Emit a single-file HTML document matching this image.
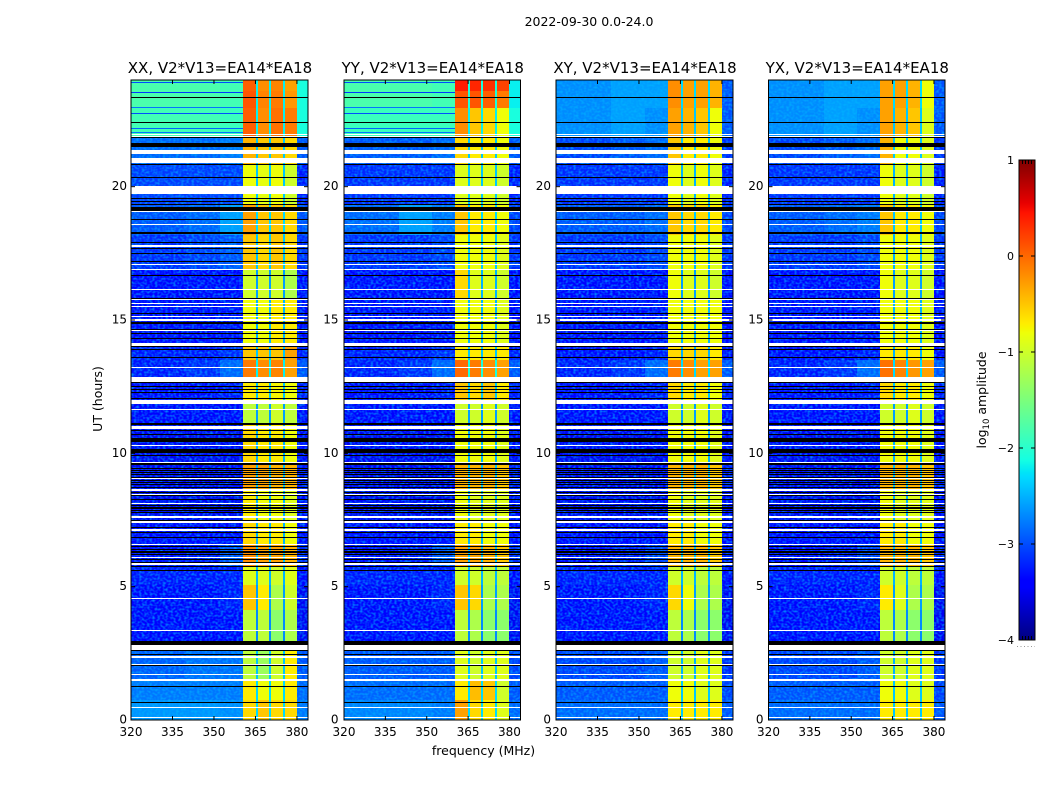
<!DOCTYPE html>
<html>
<head>
<meta charset="utf-8">
<style>
html,body{margin:0;padding:0;background:#fff;}
svg{display:block;}
text{font-family:"DejaVu Sans","Liberation Sans",sans-serif;fill:#000;}
</style>
</head>
<body>
<svg id="figure" xmlns="http://www.w3.org/2000/svg" width="1050" height="800" viewBox="0 0 1050 800">
<defs>
<filter id="grain" x="0" y="0" width="100%" height="100%" color-interpolation-filters="sRGB">
<feTurbulence type="fractalNoise" baseFrequency="0.38 0.46" numOctaves="1" seed="3"/>
<feColorMatrix type="matrix" values="0 0 0 0 0  0 0 0 0 0.72  0 0 0 0 1  1.7 0 0 0 -0.68"/>
</filter>
</defs>
<text x="589" y="26" font-size="12.5" text-anchor="middle">2022-09-30 0.0-24.0</text>
<text x="483.5" y="755" font-size="12.5" text-anchor="middle">frequency (MHz)</text>
<text x="0" y="0" font-size="12.5" text-anchor="middle" transform="translate(102,399) rotate(-90)">UT (hours)</text>
<text x="0" y="0" font-size="12.5" text-anchor="middle" transform="translate(986,400) rotate(-90)">log<tspan font-size="8.5" dy="3">10</tspan><tspan dy="-3"> amplitude</tspan></text>
<g id="panels"></g>
<g id="colorbar"></g>
</svg>
<script>
// ---- categories and tick labels ----
const panelTitles = ["XX, V2*V13=EA14*EA18", "YY, V2*V13=EA14*EA18", "XY, V2*V13=EA14*EA18", "YX, V2*V13=EA14*EA18"];
const freqTicks = [320, 335, 350, 365, 380];
const hourTicks = [0, 5, 10, 15, 20];
const colorbarTicks = [1, 0, -1, -2, -3, -4];

// frequency bin edges (MHz) and which level column each bin reads
const freqEdges = [320, 340, 352, 360.4, 365.1, 365.8, 369.8, 370.5, 374.9, 375.6, 379.9, 384];
const binColumn = [0, 1, 2, 3, 7, 4, 7, 5, 7, 6, 8];

// time row edges (hours), top to bottom
const hourEdges = [24, 23.6, 22.95, 21.83, 20.81, 19.31, 18.19, 16.88, 15.75, 14.06, 13.5, 12.75, 12, 11.06, 9.68, 8.63, 7.5, 6.56, 5.78, 5.06, 4.13, 3, 2.63, 1.5, 0.75, 0];

// log10 amplitude: columns = low-320, low-340, low-352, sb1, sb2, sb3, sb4, gap, edge-380
const levelsXX = [
[-1.8,-1.8,-1.85,0.05,-0.2,-0.15,-0.3,-2.2,-2.1],
[-1.8,-1.8,-1.85,0.1,-0.15,-0.1,-0.25,-2.2,-2.1],
[-1.85,-1.85,-1.9,0.05,-0.2,-0.05,-0.1,-2.2,-2.1],
[-2.9,-2.9,-2.8,-0.4,-0.5,-0.5,-0.6,-2.4,-3.0],
[-3.1,-3.1,-3.1,-0.8,-0.85,-0.8,-1.0,-2.4,-3.3],
[-3.0,-2.9,-2.6,-0.3,-0.5,-0.5,-0.6,-2.3,-3.0],
[-3.2,-3.1,-3.0,-0.5,-0.6,-0.5,-0.6,-2.4,-3.2],
[-3.4,-3.4,-3.4,-1.0,-1.0,-1.0,-1.2,-2.6,-3.4],
[-3.4,-3.4,-3.35,-0.8,-0.8,-0.7,-0.7,-2.5,-3.4],
[-3.3,-3.3,-3.2,-0.5,-0.5,-0.5,-0.3,-2.4,-3.3],
[-3.3,-3.2,-2.9,-0.1,-0.2,-0.15,-0.3,-2.2,-3.0],
[-3.4,-3.4,-3.3,-0.7,-0.7,-0.75,-0.8,-2.4,-3.3],
[-3.4,-3.4,-3.4,-1.1,-1.1,-1.0,-1.1,-2.6,-3.4],
[-3.5,-3.5,-3.5,-0.6,-0.7,-0.7,-0.8,-2.5,-3.4],
[-3.5,-3.5,-3.4,-0.3,-0.3,-0.4,-0.4,-2.4,-3.3],
[-3.5,-3.5,-3.5,-0.7,-0.8,-0.8,-0.9,-2.5,-3.4],
[-3.4,-3.4,-3.4,-0.6,-0.7,-0.7,-0.8,-2.5,-3.4],
[-3.4,-3.3,-3.0,-0.2,-0.3,-0.3,-0.4,-2.4,-3.2],
[-3.3,-3.3,-3.3,-0.9,-0.9,-1.0,-0.9,-2.5,-3.4],
[-3.4,-3.4,-3.3,-0.5,-0.7,-1.2,-1.0,-2.6,-3.5],
[-3.4,-3.4,-3.4,-1.1,-1.1,-1.4,-1.2,-2.7,-3.5],
[-3.4,-3.4,-3.4,-1.1,-1.1,-1.4,-1.2,-2.7,-3.5],
[-2.95,-2.85,-2.85,-1.1,-1.3,-1.0,-0.7,-2.4,-3.0],
[-2.8,-2.8,-2.8,-0.7,-0.8,-0.8,-0.7,-2.3,-2.9],
[-2.65,-2.65,-2.7,-0.6,-0.5,-0.6,-0.6,-2.3,-2.8]
];
const levelsYY = [
[-1.8,-1.8,-1.85,0.4,0.35,0.3,0.2,-2.1,-2.2],
[-1.8,-1.8,-1.85,0.1,0.1,0.05,-0.1,-2.1,-2.2],
[-1.9,-1.9,-1.9,-0.2,-0.5,-0.6,-0.8,-2.2,-2.1],
[-3.0,-3.0,-2.9,-0.6,-0.7,-0.7,-0.8,-2.4,-3.0],
[-3.2,-3.2,-3.2,-0.9,-0.9,-0.9,-1.0,-2.4,-3.3],
[-2.9,-2.6,-2.8,-0.5,-0.7,-0.7,-0.8,-2.3,-3.1],
[-3.2,-3.2,-3.1,-0.8,-0.8,-0.8,-0.9,-2.4,-3.2],
[-3.4,-3.4,-3.4,-0.6,-0.9,-0.9,-1.0,-2.5,-3.4],
[-3.4,-3.4,-3.35,-0.8,-0.8,-0.8,-0.9,-2.5,-3.4],
[-3.3,-3.3,-3.2,-0.7,-0.7,-0.7,-0.7,-2.4,-3.3],
[-3.3,-3.2,-2.9,0.0,-0.1,-0.2,-0.3,-2.1,-3.0],
[-3.4,-3.4,-3.3,-0.5,-0.6,-0.5,-0.7,-2.4,-3.3],
[-3.4,-3.4,-3.4,-1.0,-1.0,-0.9,-1.0,-2.6,-3.4],
[-3.5,-3.5,-3.5,-0.8,-0.8,-0.8,-0.9,-2.5,-3.4],
[-3.5,-3.5,-3.4,-0.4,-0.4,-0.4,-0.5,-2.4,-3.3],
[-3.5,-3.5,-3.5,-0.8,-0.9,-0.9,-0.9,-2.5,-3.4],
[-3.4,-3.4,-3.4,-0.7,-0.7,-0.8,-0.8,-2.5,-3.4],
[-3.4,-3.3,-3.0,-0.3,-0.3,-0.4,-0.5,-2.4,-3.2],
[-3.3,-3.3,-3.3,-1.0,-1.0,-1.1,-1.1,-2.5,-3.4],
[-3.4,-3.4,-3.3,-0.5,-0.6,-1.2,-1.2,-2.6,-3.5],
[-3.4,-3.4,-3.4,-1.1,-1.2,-1.4,-1.4,-2.7,-3.5],
[-3.4,-3.4,-3.4,-1.1,-1.2,-1.4,-1.4,-2.7,-3.5],
[-3.0,-3.0,-3.0,-0.9,-1.0,-0.9,-0.9,-2.4,-3.1],
[-2.9,-2.9,-2.9,-0.7,-0.45,-0.5,-1.0,-2.3,-3.0],
[-2.75,-2.75,-2.8,-0.3,-0.6,-0.7,-0.9,-2.3,-2.9]
];
const levelsXY = [
[-2.7,-2.6,-2.6,-0.2,-0.3,-0.3,-0.4,-2.3,-3.0],
[-2.7,-2.6,-2.6,-0.2,-0.3,-0.3,-0.4,-2.3,-3.0],
[-2.7,-2.6,-2.7,-0.3,-0.4,-0.5,-0.8,-2.4,-3.0],
[-3.1,-3.0,-2.9,-0.5,-0.7,-0.7,-0.8,-2.4,-3.2],
[-3.2,-3.2,-3.2,-0.8,-0.9,-0.8,-0.9,-2.5,-3.3],
[-3.0,-3.0,-2.9,-0.5,-0.6,-0.6,-0.7,-2.4,-3.1],
[-3.2,-3.2,-3.1,-0.8,-0.8,-0.8,-0.9,-2.5,-3.2],
[-3.4,-3.4,-3.4,-0.8,-0.9,-0.9,-1.0,-2.6,-3.4],
[-3.4,-3.4,-3.35,-0.8,-0.8,-0.8,-0.8,-2.5,-3.4],
[-3.4,-3.4,-3.3,-0.6,-0.6,-0.6,-0.7,-2.5,-3.4],
[-3.3,-3.2,-2.9,-0.1,-0.2,-0.3,-0.3,-2.3,-3.0],
[-3.4,-3.4,-3.3,-0.6,-0.7,-0.7,-0.8,-2.4,-3.3],
[-3.4,-3.4,-3.4,-1.0,-1.0,-0.9,-1.0,-2.6,-3.4],
[-3.5,-3.5,-3.5,-0.8,-0.8,-0.8,-0.9,-2.5,-3.4],
[-3.5,-3.5,-3.4,-0.4,-0.4,-0.4,-0.5,-2.4,-3.3],
[-3.5,-3.5,-3.5,-0.8,-0.9,-0.9,-0.9,-2.5,-3.4],
[-3.4,-3.4,-3.4,-0.7,-0.7,-0.8,-0.8,-2.5,-3.4],
[-3.4,-3.3,-3.1,-0.4,-0.4,-0.4,-0.5,-2.4,-3.3],
[-3.3,-3.3,-3.3,-1.0,-1.0,-1.1,-1.1,-2.5,-3.4],
[-3.4,-3.4,-3.3,-0.6,-0.8,-1.2,-1.2,-2.6,-3.5],
[-3.4,-3.4,-3.4,-1.1,-1.2,-1.4,-1.4,-2.7,-3.5],
[-3.4,-3.4,-3.4,-1.1,-1.2,-1.4,-1.4,-2.7,-3.5],
[-3.1,-3.1,-3.0,-1.0,-1.0,-0.9,-0.9,-2.5,-3.2],
[-3.0,-3.0,-3.0,-0.8,-0.8,-0.9,-0.9,-2.4,-3.1],
[-2.9,-2.9,-2.9,-0.7,-0.7,-0.7,-0.7,-2.4,-3.0]
];
const levelsYX = [
[-2.7,-2.6,-2.6,-0.3,-0.3,-0.4,-0.8,-2.3,-3.0],
[-2.7,-2.6,-2.6,-0.3,-0.3,-0.4,-0.8,-2.3,-3.0],
[-2.7,-2.6,-2.7,-0.3,-0.4,-0.5,-0.9,-2.4,-3.0],
[-3.1,-3.0,-2.9,-0.4,-0.8,-0.8,-0.9,-2.4,-3.2],
[-3.2,-3.2,-3.2,-0.8,-0.9,-0.9,-1.0,-2.5,-3.3],
[-3.0,-2.9,-2.8,-0.5,-0.7,-0.7,-0.8,-2.4,-3.1],
[-3.2,-3.2,-3.1,-0.8,-0.8,-0.8,-0.9,-2.5,-3.2],
[-3.4,-3.4,-3.4,-0.8,-0.9,-0.9,-1.0,-2.6,-3.4],
[-3.4,-3.4,-3.35,-0.8,-0.8,-0.8,-0.9,-2.5,-3.4],
[-3.4,-3.4,-3.3,-0.7,-0.7,-0.7,-0.8,-2.5,-3.4],
[-3.3,-3.2,-2.9,-0.05,-0.15,-0.25,-0.3,-2.3,-3.0],
[-3.4,-3.4,-3.3,-0.6,-0.7,-0.7,-0.8,-2.4,-3.3],
[-3.4,-3.4,-3.4,-1.0,-1.0,-0.9,-1.0,-2.6,-3.4],
[-3.5,-3.5,-3.5,-0.8,-0.8,-0.8,-0.9,-2.5,-3.4],
[-3.5,-3.5,-3.4,-0.4,-0.4,-0.4,-0.5,-2.4,-3.3],
[-3.5,-3.5,-3.5,-0.8,-0.9,-0.9,-0.9,-2.5,-3.4],
[-3.4,-3.4,-3.4,-0.7,-0.7,-0.8,-0.8,-2.5,-3.4],
[-3.4,-3.3,-3.1,-0.4,-0.4,-0.4,-0.5,-2.4,-3.3],
[-3.3,-3.3,-3.3,-1.0,-1.0,-1.1,-1.1,-2.5,-3.4],
[-3.4,-3.4,-3.3,-0.7,-0.9,-1.2,-1.2,-2.6,-3.5],
[-3.4,-3.4,-3.4,-1.1,-1.2,-1.4,-1.4,-2.7,-3.5],
[-3.4,-3.4,-3.4,-1.1,-1.2,-1.4,-1.4,-2.7,-3.5],
[-3.1,-3.1,-3.0,-1.0,-1.0,-0.9,-0.9,-2.5,-3.2],
[-3.0,-3.0,-3.0,-0.8,-0.8,-0.9,-0.9,-2.4,-3.1],
[-2.9,-2.9,-2.9,-0.7,-0.7,-0.7,-0.7,-2.4,-3.0]
];
const panelLevels = [levelsXX, levelsYY, levelsXY, levelsYX];

// hour where the speckled noise floor starts in each panel
const speckleStartHours = [21.83, 21.83, 24, 24];

// dropout rows in the low band, parallel-hand only (hours, level)
const dropoutHours = [[23.92,23.88],[23.55,23.5],[23.0,22.96],[22.78,22.74],[22.2,22.16],[22.05,22.01]];
const dropoutLevels = [-3.0, -3.1, -2.8, -3.0, -2.9, -2.8];

// flagged time ranges (hours: high, low)
const whiteFlagHours = [[21.975,21.94],[21.9,21.86],[21.375,21.225],[21.09,20.9],[20.025,19.74],[19.08,19.04],[18.6,18.56],[17.81,17.74],[17.1,17.06],[16.93,16.89],[16.16,16.125],[15.79,15.75],[15.63,15.59],[15.51,15.47],[15.15,15.11],[15.04,14.96],[14.625,14.59],[14.12,14.04],[13.24,13.2],[12.86,12.675],[12,11.86],[11.66,11.625],[11.01,10.91],[10.31,10.275],[9.675,9.64],[9.075,9.04],[8.65,8.58],[8.49,8.46],[8.14,8.1],[7.65,7.575],[7.45,7.375],[7.15,7.09],[6.6,6.56],[6.11,6.075],[5.875,5.82],[4.575,4.54],[3.375,3.32],[2.83,2.625],[2.4,2.325],[2.1,2.06],[1.725,1.69],[1.53,1.46],[0.49,0.45],[0.125,0.075]];
const blackFlagHours = [[23.36,23.325],[22.425,22.39],[21.85,21.81],[21.64,21.47],[20.85,20.81],[20.36,20.325],[19.575,19.54],[19.48,19.44],[19.35,19.31],[19.24,19.09],[18.79,18.75],[18.3,18.24],[17.925,17.89],[17.7,17.66],[17.51,17.46],[17.21,17.175],[16.69,16.65],[15.825,15.79],[15.26,15.225],[14.94,14.91],[14.89,14.85],[14.66,14.625],[14.51,14.475],[14.325,14.29],[14.025,13.99],[13.91,13.875],[13.61,13.575],[12.675,12.64],[12.51,12.47],[12.41,12.375],[12.3,12.26],[12.06,12.02],[11.12,11.08],[10.89,10.84],[10.71,10.67],[10.56,10.44],[10.16,10],[9.94,9.9],[9.62,9.58],[9.45,9.41],[9.375,9.34],[9.29,9.25],[9.21,9.175],[9.125,9.09],[9,8.96],[8.91,8.875],[8.84,8.8],[8.75,8.71],[8.55,8.51],[8.44,8.4],[8.29,8.25],[8.06,8.025],[8,7.96],[7.94,7.9],[7.875,7.84],[7.81,7.76],[7.5,7.46],[7.24,7.2],[7.05,7.01],[6.86,6.81],[6.51,6.47],[6.41,6.375],[6.32,6.28],[6.225,6.19],[6.04,6],[5.94,5.91],[5.775,5.74],[5.64,5.59],[2.96,2.83],[2.625,2.59],[2.46,2.42],[2.06,2.025],[1.29,1.26],[0.66,0.62]];

// ---- axis geometry and scales ----
const SVGNS = "http://www.w3.org/2000/svg";
const panelLefts = [131, 344, 556, 768.5];
const panelRights = [308, 520.5, 733, 945];
const yLabelRights = [127, 338.5, 551, 763.5];
const plotTop = 80, plotBottom = 720;
const hourMax = 24, freqMin = 320, freqMax = 384;
const yScale = h => plotBottom - (h / hourMax) * (plotBottom - plotTop);
const xScaleFor = (left, right) => f => left + ((f - freqMin) / (freqMax - freqMin)) * (right - left);
const cbLeft = 1019, cbRight = 1035, cbTop = 160, cbBottom = 640, cbMin = -4, cbMax = 1;
const cbScale = v => cbBottom - ((v - cbMin) / (cbMax - cbMin)) * (cbBottom - cbTop);

function interp(stops, t) {
  for (let i = 1; i < stops.length; i++) {
    if (t <= stops[i][0]) {
      const a = stops[i - 1], b = stops[i];
      return a[1] + (b[1] - a[1]) * (t - a[0]) / (b[0] - a[0]);
    }
  }
  return stops[stops.length - 1][1];
}
const jetR = [[0,0],[0.35,0],[0.66,1],[0.89,1],[1,0.5]];
const jetG = [[0,0],[0.125,0],[0.375,1],[0.64,1],[0.91,0],[1,0]];
const jetB = [[0,0.5],[0.11,1],[0.34,1],[0.65,0],[1,0]];
function jet(v) {
  const t = Math.max(0, Math.min(1, (v - cbMin) / (cbMax - cbMin)));
  const c = s => Math.round(255 * interp(s, t));
  return "rgb(" + c(jetR) + "," + c(jetG) + "," + c(jetB) + ")";
}

function make(tag, attrs, parent) {
  const el = document.createElementNS(SVGNS, tag);
  for (const k in attrs) el.setAttribute(k, attrs[k]);
  parent.appendChild(el);
  return el;
}
function bandRect(parent, x1, x2, hHigh, hLow, fill) {
  const y1 = Math.round(yScale(hHigh));
  const y2 = Math.max(y1 + 1, Math.round(yScale(hLow)));
  return make("rect", {x: x1, y: y1, width: x2 - x1, height: y2 - y1, fill: fill, "shape-rendering": "crispEdges"}, parent);
}

const panelsRoot = document.getElementById("panels");

panelTitles.forEach((title, p) => {
  const left = panelLefts[p];
  const right = panelRights[p];
  const x = xScaleFor(left, right);
  const g = make("g", {}, panelsRoot);
  
  

  // heatmap cells
  panelLevels[p].forEach((row, r) => {
    binColumn.forEach((col, b) => {
      const cell = bandRect(g, Math.round(x(freqEdges[b])), Math.round(x(freqEdges[b + 1])), hourEdges[r], hourEdges[r + 1], jet(row[col]));
      
      
    });
  });

  // noise-floor speckle texture (decorative, outside the signal band)
  const speckleLow = bandRect(g, Math.round(x(freqEdges[0])), Math.round(x(freqEdges[3])), speckleStartHours[p], 0, "#000");
  speckleLow.setAttribute("filter", "url(#grain)");
  
  
  const speckleEdge = bandRect(g, Math.round(x(freqEdges[10])), Math.round(x(freqEdges[11])), speckleStartHours[p], 0, "#000");
  speckleEdge.setAttribute("filter", "url(#grain)");
  
  

  // low band dropouts for XX and YY
  if (p < 2) {
    dropoutHours.forEach((d, i) => {
      const drop = bandRect(g, Math.round(x(freqEdges[0])), Math.round(x(freqEdges[3])), d[0], d[1], jet(dropoutLevels[i]));
      
      
    });
  }

  // flagged rows
  whiteFlagHours.forEach(d => {
    const w = bandRect(g, left, right, d[0], d[1], "#fff");
    
    
  });
  blackFlagHours.forEach(d => {
    const k = bandRect(g, left, right, d[0], d[1], "#000");
    
    
  });

  // frame
  const frame = make("rect", {x: left, y: plotTop, width: right - left, height: plotBottom - plotTop, fill: "none", stroke: "#000", "stroke-width": 1}, g);
  
  

  // title
  const t = make("text", {x: (left + right) / 2 + 0.5, y: 73, "font-size": 15, "text-anchor": "middle"}, g);
  t.textContent = title;
  
  

  // x ticks
  freqTicks.forEach(f => {
    const px = x(f);
    const tb = make("line", {x1: px, x2: px, y1: plotBottom, y2: plotBottom - 4, stroke: "#000"}, g);
    
    
    const tt = make("line", {x1: px, x2: px, y1: plotTop, y2: plotTop + 4, stroke: "#000"}, g);
    
    
    const lab = make("text", {x: px, y: 736, "font-size": 12, "text-anchor": "middle"}, g);
    lab.textContent = f;
    
    
  });

  // y ticks
  hourTicks.forEach(h => {
    const py = yScale(h);
    const tl = make("line", {x1: left, x2: left + 4, y1: py, y2: py, stroke: "#000"}, g);
    
    
    const tr = make("line", {x1: right, x2: right - 4, y1: py, y2: py, stroke: "#000"}, g);
    
    
    const lab = make("text", {x: yLabelRights[p], y: py + 3.5, "font-size": 12, "text-anchor": "end"}, g);
    lab.textContent = h;
    
    
  });
});

// ---- colorbar ----
const cbRoot = document.getElementById("colorbar");
for (let py = cbTop; py < cbBottom; py++) {
  const v = cbMax - ((py + 0.5 - cbTop) / (cbBottom - cbTop)) * (cbMax - cbMin);
  const seg = make("rect", {x: cbLeft, y: py, width: cbRight - cbLeft, height: 1, fill: jet(v), "shape-rendering": "crispEdges"}, cbRoot);
  
  
}
const cbFrame = make("rect", {x: cbLeft, y: cbTop, width: cbRight - cbLeft, height: cbBottom - cbTop, fill: "none", stroke: "#000"}, cbRoot);


colorbarTicks.forEach(v => {
  const py = cbScale(v);
  const a = make("line", {x1: cbLeft, x2: cbLeft + 4, y1: py, y2: py, stroke: "#000"}, cbRoot);
  
  
  const b = make("line", {x1: cbRight, x2: cbRight - 4, y1: py, y2: py, stroke: "#000"}, cbRoot);
  
  
  const lab = make("text", {x: cbLeft - 5, y: py + 4, "font-size": 11, "text-anchor": "end"}, cbRoot);
  lab.textContent = v < 0 ? "\u2212" + Math.abs(v) : String(v);
  
  
});
const cbMarks = [1022, 1025, 1028, 1031];
cbMarks.forEach(px => {
  const top = make("line", {x1: px + 0.5, x2: px + 0.5, y1: cbTop, y2: cbTop + 4, stroke: "#000"}, cbRoot);
  
  
  const bot = make("line", {x1: px + 0.5, x2: px + 0.5, y1: cbBottom, y2: cbBottom - 4, stroke: "#000"}, cbRoot);
  
  
});
const cbDots = make("line", {x1: 1017, x2: 1035, y1: 646.5, y2: 646.5, stroke: "#999", "stroke-width": 1, "stroke-dasharray": "1 2.5"}, cbRoot);


</script>
</body>
</html>
